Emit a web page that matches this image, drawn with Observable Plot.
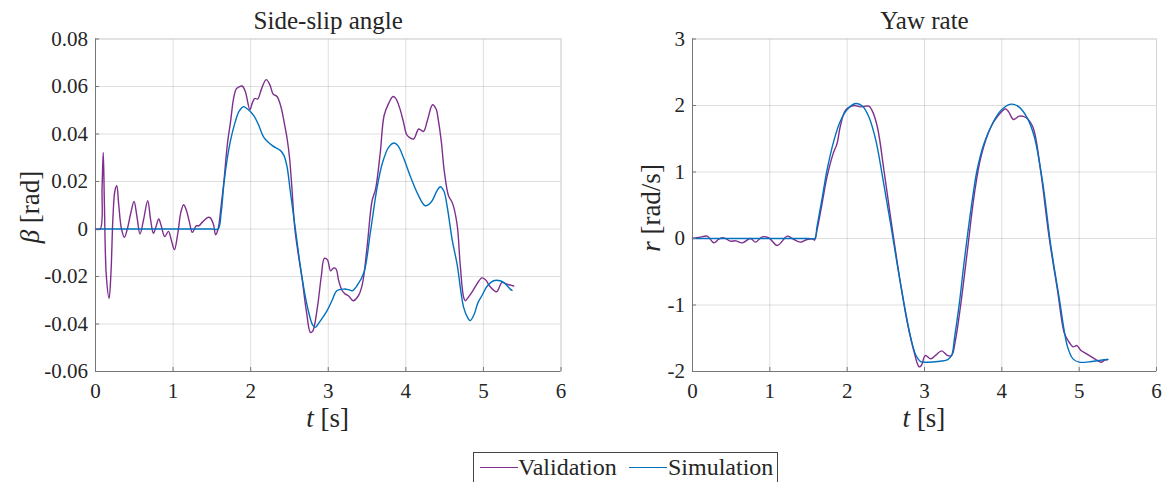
<!DOCTYPE html>
<html>
<head>
<meta charset="utf-8">
<script src="https://cdn.jsdelivr.net/npm/d3@7"></script>
<script src="https://cdn.jsdelivr.net/npm/@observablehq/plot@0.6"></script>
<style>
  body { margin: 0; background: #fff; }
  #wrap { position: relative; width: 1168px; height: 482px; overflow: hidden; font-family: "Liberation Serif", serif; color: #262626; }
  .panel { position: absolute; top: 0; }
  #left { left: 0; }
  #right { left: 584px; }
  #legend { position: absolute; left: 473px; top: 452px; width: 305px; height: 40px; border: 1px solid #444; box-sizing: border-box; background: #fff; }
  .li { position: absolute; top: 0; height: 30px; font-family: "Liberation Serif", serif; font-size: 24px; line-height: 28px; white-space: nowrap; color: #262626; }
  .sw { position: absolute; top: 14px; height: 0; border-top: 1.3px solid; }
</style>
</head>
<body>
<div id="wrap">
  <div id="left" class="panel"></div>
  <div id="right" class="panel"></div>
  <div id="legend"></div>
</div>
<script>
// ---------- data ----------
const seriesNames = ["Validation", "Simulation"];
const seriesColors = ["#7E2F8E", "#0072BD"];
const xTicks = [0, 1, 2, 3, 4, 5, 6];
const betaTicks = [-0.06, -0.04, -0.02, 0, 0.02, 0.04, 0.06, 0.08];
const rTicks = [-2, -1, 0, 1, 2, 3];

// Side-slip angle, validation
const tBetaVal = [0, 0.06, 0.085, 0.1, 0.115, 0.14, 0.175, 0.2, 0.225, 0.25, 0.274, 0.3, 0.335, 0.373, 0.41, 0.45, 0.497, 0.535, 0.574, 0.62, 0.673, 0.71, 0.746, 0.78, 0.815, 0.85, 0.892, 0.94, 0.98, 1.017, 1.06, 1.1, 1.136, 1.17, 1.21, 1.248, 1.3, 1.33, 1.38, 1.45, 1.48, 1.52, 1.548, 1.58, 1.62, 1.655, 1.7, 1.74, 1.78, 1.815, 1.85, 1.89, 1.93, 1.99, 2.02, 2.054, 2.09, 2.14, 2.2, 2.25, 2.29, 2.34, 2.39, 2.436, 2.47, 2.5, 2.53, 2.57, 2.62, 2.66, 2.72, 2.77, 2.8, 2.86, 2.91, 2.95, 2.99, 3.03, 3.07, 3.1, 3.135, 3.18, 3.22, 3.26, 3.32, 3.39, 3.44, 3.5, 3.565, 3.61, 3.67, 3.72, 3.78, 3.835, 3.87, 3.92, 3.97, 4.01, 4.05, 4.1, 4.165, 4.2, 4.23, 4.28, 4.345, 4.39, 4.42, 4.46, 4.495, 4.55, 4.6, 4.66, 4.7, 4.745, 4.766, 4.8, 4.85, 4.92, 4.98, 5.03, 5.087, 5.17, 5.24, 5.3, 5.345, 5.39];
const betaVal = [0, 0, 0.018, 0.0322, 0.01, -0.02, -0.0292, -0.018, 0.005, 0.016, 0.0182, 0.01, 0.0, -0.0035, 0.0, 0.006, 0.0116, 0.005, -0.0021, 0.004, 0.0119, 0.004, -0.0018, 0.001, 0.0042, 0.001, -0.0032, -0.001, -0.005, -0.0087, -0.002, 0.007, 0.0102, 0.008, 0.003, -0.0014, 0.0014, 0.0013, 0.003, 0.0049, 0.0047, 0.002, -0.0024, 0.0, 0.01, 0.02, 0.0358, 0.045, 0.055, 0.059, 0.0598, 0.0602, 0.058, 0.0502, 0.053, 0.055, 0.0547, 0.059, 0.0629, 0.0605, 0.0568, 0.0558, 0.0515, 0.0442, 0.038, 0.0303, 0.018, 0.0, -0.012, -0.0203, -0.035, -0.0435, -0.043, -0.033, -0.02, -0.0124, -0.013, -0.0176, -0.0164, -0.0168, -0.0218, -0.026, -0.0274, -0.0281, -0.0302, -0.028, -0.0232, -0.0077, 0.0119, 0.0168, 0.032, 0.0478, 0.053, 0.0558, 0.055, 0.051, 0.045, 0.0398, 0.0385, 0.0379, 0.0421, 0.0415, 0.0411, 0.046, 0.0523, 0.0505, 0.0456, 0.036, 0.0245, 0.014, 0.011, 0.0021, -0.0147, -0.0288, -0.0302, -0.029, -0.0267, -0.023, -0.0206, -0.0215, -0.0243, -0.0264, -0.0225, -0.0232, -0.0236, -0.024];

// Side-slip angle, simulation
const tBetaSim = [0, 1.5, 1.58, 1.62, 1.655, 1.7, 1.74, 1.8, 1.85, 1.905, 1.96, 2.04, 2.1, 2.17, 2.28, 2.385, 2.43, 2.47, 2.51, 2.58, 2.66, 2.74, 2.8, 2.835, 2.88, 2.93, 2.985, 3.05, 3.11, 3.2, 3.26, 3.31, 3.37, 3.46, 3.54, 3.63, 3.7, 3.78, 3.85, 3.9, 3.97, 4.06, 4.15, 4.25, 4.33, 4.4, 4.444, 4.49, 4.53, 4.6, 4.66, 4.745, 4.8, 4.83, 4.88, 4.93, 4.98, 5.05, 5.13, 5.216, 5.28, 5.345, 5.37];
const betaSim = [0, 0, 0, 0.007, 0.019, 0.03, 0.0372, 0.045, 0.0495, 0.0515, 0.0505, 0.0477, 0.044, 0.0386, 0.0351, 0.033, 0.0309, 0.026, 0.0161, -0.001, -0.02, -0.034, -0.0405, -0.0414, -0.0395, -0.0372, -0.0344, -0.03, -0.026, -0.0253, -0.0255, -0.026, -0.0239, -0.0183, -0.0021, 0.0175, 0.028, 0.0345, 0.0362, 0.035, 0.03, 0.022, 0.015, 0.0098, 0.0115, 0.016, 0.0178, 0.016, 0.01, -0.005, -0.0147, -0.033, -0.0375, -0.0386, -0.036, -0.031, -0.0281, -0.024, -0.0218, -0.0218, -0.023, -0.0253, -0.0258];

// Yaw rate, validation
const tRVal = [0, 0.1, 0.19, 0.276, 0.34, 0.405, 0.49, 0.56, 0.643, 0.75, 0.815, 0.9, 0.987, 1.096, 1.225, 1.29, 1.397, 1.48, 1.55, 1.578, 1.61, 1.676, 1.74, 1.82, 1.87, 1.91, 1.98, 2.09, 2.17, 2.28, 2.32, 2.39, 2.475, 2.56, 2.69, 2.78, 2.86, 2.93, 2.96, 3.01, 3.08, 3.15, 3.22, 3.3, 3.35, 3.4, 3.47, 3.555, 3.64, 3.73, 3.86, 3.94, 4.05, 4.09, 4.15, 4.225, 4.31, 4.4, 4.5, 4.61, 4.72, 4.81, 4.87, 4.92, 4.97, 5.02, 5.09, 5.2, 5.28, 5.33, 5.37];
const rVal = [0, 0.02, 0.035, -0.065, -0.01, 0.01, -0.04, -0.035, -0.065, 0, -0.055, 0.025, 0.01, -0.105, 0.035, 0, -0.055, -0.015, -0.005, -0.025, 0.125, 0.53, 0.93, 1.28, 1.43, 1.68, 1.93, 2.0, 1.98, 1.99, 1.93, 1.68, 1.03, 0.33, -0.68, -1.28, -1.68, -1.93, -1.91, -1.76, -1.81, -1.75, -1.69, -1.76, -1.76, -1.53, -0.98, -0.18, 0.63, 1.23, 1.68, 1.83, 1.95, 1.9, 1.79, 1.84, 1.82, 1.68, 1.03, 0.03, -0.78, -1.43, -1.56, -1.63, -1.61, -1.68, -1.73, -1.81, -1.86, -1.83, -1.82];

// Yaw rate, simulation
const tRSim = [0, 1.5, 1.58, 1.61, 1.68, 1.74, 1.83, 1.91, 2.0, 2.11, 2.2, 2.28, 2.37, 2.45, 2.56, 2.69, 2.82, 2.89, 2.95, 3.04, 3.17, 3.3, 3.35, 3.39, 3.45, 3.51, 3.6, 3.68, 3.77, 3.88, 3.99, 4.12, 4.22, 4.33, 4.42, 4.53, 4.63, 4.74, 4.85, 4.92, 5.0, 5.16, 5.28, 5.37];
const rSim = [0, 0, 0, 0.18, 0.63, 1.03, 1.48, 1.76, 1.94, 2.03, 1.99, 1.83, 1.48, 0.98, 0.23, -0.68, -1.48, -1.76, -1.85, -1.86, -1.85, -1.82, -1.76, -1.48, -0.98, -0.38, 0.43, 1.03, 1.43, 1.73, 1.93, 2.02, 1.98, 1.81, 1.53, 0.83, -0.08, -0.88, -1.63, -1.81, -1.86, -1.85, -1.83, -1.82];

// ---------- drawing ----------
const zip = (t, v) => t.map((x, i) => ({t: x, v: v[i]}));
const FONT = "'Liberation Serif', serif";
const AX = "#767676";

function panel({marginLeft, marginRight, yDomain, yTicks, yFormat, val, sim, title}) {
  return Plot.plot({
    width: 584, height: 420,
    marginLeft, marginRight, marginTop: 38.5, marginBottom: 49,
    style: {fontFamily: FONT, fontSize: "21px", color: "#262626", background: "transparent", overflow: "visible"},
    x: {domain: [0, 6]},
    y: {domain: yDomain},
    marks: [
      Plot.gridX(xTicks, {stroke: "#000", strokeOpacity: 0.13}),
      Plot.gridY(yTicks, {stroke: "#000", strokeOpacity: 0.13}),
      Plot.frame({stroke: "#d6d6d6"}),
      Plot.ruleX([0], {stroke: AX}),
      Plot.ruleY([yDomain[0]], {stroke: AX}),
      Plot.line(zip(val[0], val[1]), {x: "t", y: "v", stroke: seriesColors[0], strokeWidth: 1.4, curve: "catmull-rom"}),
      Plot.line(zip(sim[0], sim[1]), {x: "t", y: "v", stroke: seriesColors[1], strokeWidth: 1.4, curve: "catmull-rom"}),
      Plot.axisX(xTicks, {tickSize: -4, tickPadding: 16, stroke: AX, fill: "#262626", fontFamily: FONT, label: null, tickFormat: d => String(d)}),
      Plot.axisY(yTicks, {tickSize: -4, tickPadding: 11.5, stroke: AX, fill: "#262626", fontFamily: FONT, label: null, tickFormat: yFormat}),
      Plot.text([title], {frameAnchor: "top", lineAnchor: "middle", dy: -18, fontSize: 25, fontFamily: FONT, fill: "#262626"})
    ]
  });
}

function addLabels(svg, {xCenter, yLabelX, yCenter, yItalic, yRest}) {
  const s = d3.select(svg);
  const xl = s.append("text")
    .attr("x", xCenter).attr("y", 418)
    .attr("text-anchor", "middle").attr("dominant-baseline", "central")
    .attr("font-family", FONT).attr("font-size", 27).attr("fill", "#262626");
  xl.append("tspan").attr("font-style", "italic").text("t");
  xl.append("tspan").text(" [s]");
  const yl = s.append("text")
    .attr("transform", `translate(${yLabelX},${yCenter}) rotate(-90)`)
    .attr("text-anchor", "middle").attr("dominant-baseline", "central")
    .attr("font-family", FONT).attr("font-size", 27).attr("fill", "#262626");
  yl.append("tspan").attr("font-style", "italic").text(yItalic);
  yl.append("tspan").text(yRest);
}

const left = panel({
  marginLeft: 95, marginRight: 23.5,
  yDomain: [-0.06, 0.08], yTicks: betaTicks,
  yFormat: d => (Math.abs(d) < 1e-9 ? "0" : d.toFixed(2)),
  val: [tBetaVal, betaVal], sim: [tBetaSim, betaSim],
  title: "Side-slip angle"
});
addLabels(left, {xCenter: 327.7, yLabelX: 30, yCenter: 207, yItalic: "β", yRest: " [rad]"});
document.getElementById("left").appendChild(left);

const right = panel({
  marginLeft: 108, marginRight: 12,
  yDomain: [-2, 3], yTicks: rTicks,
  yFormat: d => String(d),
  val: [tRVal, rVal], sim: [tRSim, rSim],
  title: "Yaw rate"
});
addLabels(right, {xCenter: 340, yLabelX: 67, yCenter: 208, yItalic: "r", yRest: " [rad/s]"});
document.getElementById("right").appendChild(right);

// legend
const legend = document.getElementById("legend");
const legendPos = [{sw: 6, tx: 44}, {sw: 155, tx: 194}];
seriesNames.forEach((name, i) => {
  const sw = document.createElement("div");
  sw.className = "sw";
  sw.style.left = legendPos[i].sw + "px";
  sw.style.width = "38px";
  sw.style.borderTopColor = seriesColors[i];
  legend.appendChild(sw);
  const tx = document.createElement("div");
  tx.className = "li";
  tx.style.left = legendPos[i].tx + "px";
  tx.textContent = name;
  legend.appendChild(tx);
});
</script>
</body>
</html>
